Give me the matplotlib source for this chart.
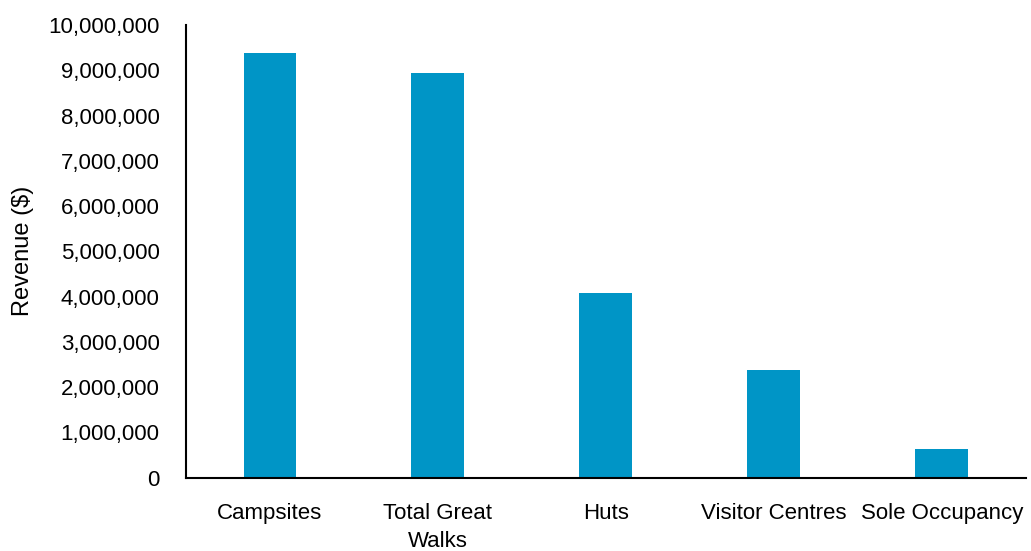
import matplotlib.pyplot as plt
from matplotlib.ticker import FuncFormatter

plt.rcParams['font.family'] = ['Liberation Sans', 'DejaVu Sans']

# revenue by booking type
categories = ['Campsites', 'Total Great\nWalks', 'Huts', 'Visitor Centres', 'Sole Occupancy']
revenue = [9375000, 8945000, 4070000, 2380000, 634000]

fig = plt.figure(figsize=(10.31, 5.51), dpi=100)
ax = fig.add_axes([0.1804, 0.133, 0.8146, 0.8216])

ax.bar(range(len(categories)), revenue, width=0.315, color='#0095C6')

ax.set_xlim(-0.5, len(categories) - 0.5)
ax.set_ylim(0, 10000000)
ax.set_yticks(range(0, 10000001, 1000000))
ax.yaxis.set_major_formatter(FuncFormatter(lambda v, p: f'{int(v):,}'))
ax.set_xticks(range(len(categories)))
ax.set_xticklabels(categories, va='top', linespacing=1.45)

ax.tick_params(axis='both', length=0, labelsize=16, colors='black')
ax.tick_params(axis='x', pad=18)
ax.tick_params(axis='y', pad=19)
ax.set_ylabel('Revenue ($)', fontsize=17, labelpad=10)

for s in ['top', 'right']:
    ax.spines[s].set_visible(False)
for s in ['left', 'bottom']:
    ax.spines[s].set_linewidth(1.5)
    ax.spines[s].set_color('black')

fig.savefig('out.png', dpi=100)
